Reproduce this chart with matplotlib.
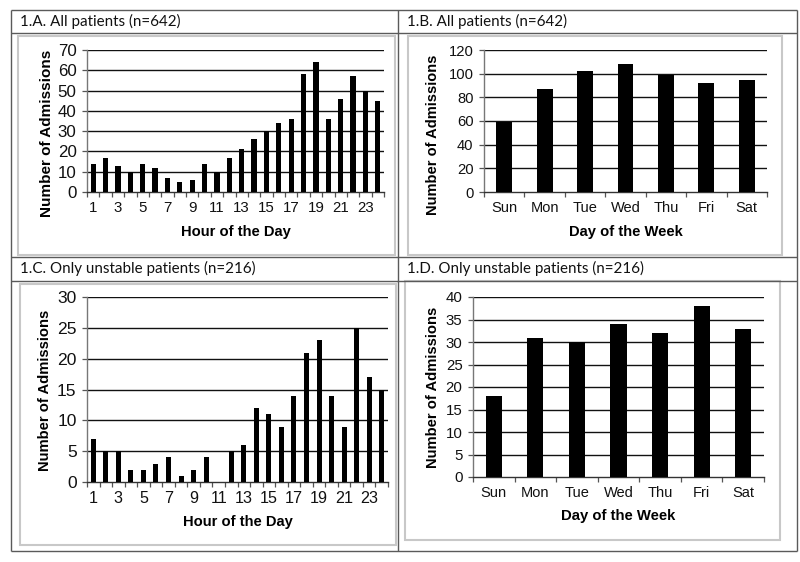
import matplotlib
matplotlib.use('Agg')
import matplotlib.pyplot as plt
from matplotlib.lines import Line2D
from matplotlib.patches import Rectangle
from matplotlib.ticker import FixedLocator, NullFormatter

# ---------------- data ----------------
hours = list(range(1, 25))
hour_labels = [str(h) if h % 2 == 1 else '' for h in hours]
days = ['Sun', 'Mon', 'Tue', 'Wed', 'Thu', 'Fri', 'Sat']

all_by_hour = [14, 17, 13, 10, 14, 12, 7, 5, 6, 14, 10, 17, 21, 26, 30, 34, 36, 58, 64, 36, 46, 57, 50, 45]
all_by_day = [59, 87, 102, 108, 99, 92, 95]
unstable_by_hour = [7, 5, 5, 2, 2, 3, 4, 1, 2, 4, 0, 5, 6, 12, 11, 9, 14, 21, 23, 14, 9, 25, 17, 15]
unstable_by_day = [18, 31, 30, 34, 32, 38, 33]

titles = ['1.A. All patients (n=642)', '1.B. All patients (n=642)',
          '1.C. Only unstable patients (n=216)', '1.D. Only unstable patients (n=216)']

# ---------------- layout helpers ----------------
W, H = 800, 562
fig = plt.figure(figsize=(W / 100, H / 100), dpi=100)
fig.patch.set_facecolor('white')

def fx(x):
    return x / W

def fy(y):
    return 1 - y / H

def line(x0, y0, x1, y1, color='#555555', lw=1.0):
    fig.add_artist(Line2D([fx(x0), fx(x1)], [fy(y0), fy(y1)], transform=fig.transFigure,
                          color=color, lw=lw, solid_capstyle='butt'))

def rect(x0, y0, x1, y1, color='#c8c8c8', lw=1.5):
    fig.add_artist(Rectangle((fx(x0), fy(y1)), fx(x1) - fx(x0), fy(y0) - fy(y1),
                             transform=fig.transFigure, fill=False, edgecolor=color, lw=lw))

# inner light-grey chart frames
rect(18, 36, 395, 255)
rect(408, 36, 782, 255)
rect(20, 284, 396, 545)
rect(405, 281, 780, 540)

# table lines
tc = '#5a5a5a'
line(11, 10, 797, 10, tc)
line(11, 551, 797, 551, tc)
line(11, 10, 11, 551, tc)
line(797, 10, 797, 551, tc)
line(398, 10, 398, 551, tc)
line(11, 33, 797, 33, tc)
line(11, 257, 797, 257, tc)
line(11, 281, 797, 281, tc)

hfont = dict(family=['Lato', 'DejaVu Sans'], fontsize=10.9, color='#111111', va='center', ha='left')
fig.text(fx(20), fy(21), titles[0], **hfont)
fig.text(fx(407), fy(21), titles[1], **hfont)
fig.text(fx(20), fy(268), titles[2], **hfont)
fig.text(fx(407), fy(268), titles[3], **hfont)

TF = ['Liberation Sans', 'DejaVu Sans']

def panel(x0, x1, ytop, ybot, labels, values, ymax, ystep, xlabel,
          bar_w, ylab_x, ylab_y, xlab_y, yfs, xfs, ylfs, xlfs):
    ax = fig.add_axes([fx(x0), fy(ybot), fx(x1) - fx(x0), fy(ytop) - fy(ybot)])
    n = len(values)
    pos = list(range(n))
    ax.bar(pos, values, width=bar_w, color='black', zorder=3)
    ax.set_xlim(-0.5, n - 0.5)
    ax.set_ylim(0, ymax)
    yt = list(range(0, ymax + 1, ystep))
    ax.set_yticks(yt)
    ax.set_yticklabels([str(v) for v in yt], family=TF, fontsize=yfs)
    ax.set_xticks(pos)
    ax.set_xticklabels(labels, family=TF, fontsize=xfs)
    ax.xaxis.set_minor_locator(FixedLocator([i - 0.5 for i in range(n + 1)]))
    ax.xaxis.set_minor_formatter(NullFormatter())
    ax.tick_params(axis='x', which='major', length=0, pad=6.5, colors='#111111')
    ax.tick_params(axis='x', which='minor', length=3.5, width=0.9, color='#555555', direction='out')
    ax.tick_params(axis='y', which='major', length=3.5, width=0.9, color='#555555', pad=4, labelcolor='#111111')
    for y in yt[1:]:
        ax.axhline(y, color='#111111', lw=1.0, zorder=1)
    for s in ['top', 'right']:
        ax.spines[s].set_visible(False)
    ax.spines['left'].set_color('#777777')
    ax.spines['left'].set_linewidth(1.0)
    ax.spines['bottom'].set_color('#333333')
    ax.spines['bottom'].set_linewidth(1.0)
    ax.set_ylabel('Number of Admissions', family=TF, fontsize=ylfs, fontweight='bold')
    ax.yaxis.set_label_coords(ylab_x, ylab_y)
    ax.set_xlabel(xlabel, family=TF, fontsize=xlfs, fontweight='bold')
    ax.xaxis.set_label_coords(0.5, xlab_y)
    ax.xaxis.label.set_va('center')
    ax.yaxis.label.set_va('center')
    return ax

panel(87, 384, 50, 192, hour_labels, all_by_hour, 70, 10, 'Hour of the Day',
      0.43, -0.135, 0.415, -0.28, 12.2, 10.8, 11.0, 10.6)
panel(484, 767, 50, 192, days, all_by_day, 120, 20, 'Day of the Week',
      0.39, -0.18, 0.40, -0.28, 10.6, 10.5, 10.5, 10.6)
panel(87, 388, 297, 482, hour_labels, unstable_by_hour, 30, 5, 'Hour of the Day',
      0.40, -0.14, 0.497, -0.216, 12.6, 11.6, 10.6, 10.6)
panel(473, 764, 297, 477, days, unstable_by_day, 40, 5, 'Day of the Week',
      0.39, -0.137, 0.5, -0.217, 10.8, 10.5, 10.6, 10.7)

fig.savefig('out.png', dpi=100)
